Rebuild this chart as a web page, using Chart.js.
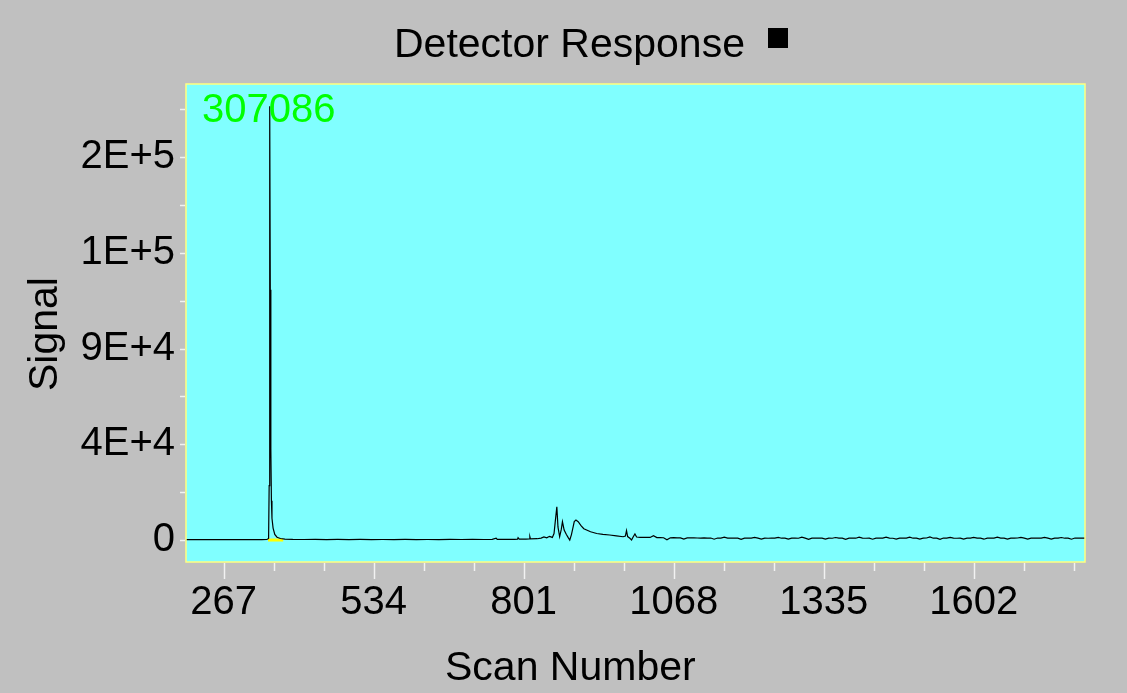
<!DOCTYPE html>
<html>
<head>
<meta charset="utf-8">
<script src="https://cdn.jsdelivr.net/npm/chart.js@4"></script>
<style>
    html, body { margin: 0; padding: 0; background: #c0c0c0; }
    canvas { display: block; }
</style>
</head>
<body>
<canvas id="detectorChart" width="1127" height="693"></canvas>
<script>
// Peak region: scan numbers and signal
const peakScans = [
    200, 215, 230, 245, 260, 275, 290, 305, 320, 335, 344, 347, 348, 349, 350, 351, 352, 353, 355, 358,
    362, 368, 376, 390, 410, 430, 450, 470, 490, 510, 530, 550, 570, 590, 610, 630, 650, 670, 690, 710,
    730, 745, 752, 754, 770, 785, 790, 791, 793, 805, 811, 812, 813, 825, 832, 837, 842, 847, 852, 855,
    857, 860, 862, 865, 868, 870, 873, 877, 880, 883, 886, 889, 891, 894, 898, 903, 908, 913, 920, 931,
    942, 954, 966, 978, 982, 984, 986, 990, 993, 996, 999, 1002, 1008, 1014
];
const peakSignal = [
    150, 250, 180, 220, 160, 240, 200, 170, 230, 190, 250, 700, 25000, 199400, 115000, 42000, 18000, 10000, 5500, 2600,
    1300, 700, 450, 300, 250, 300, 220, 280, 230, 260, 200, 250, 220, 270, 230, 250, 210, 260, 240, 280,
    250, 300, 800, 300, 350, 300, 400, 1100, 400, 450, 500, 1500, 500, 600, 900, 1400, 1000, 1700, 1200, 3000,
    8000, 15300, 6000, 1500, 5000, 8400, 4600, 2500, 1200, 0, 2500, 6000, 8500, 9200, 8400, 6600, 5200, 4600, 3800, 3000,
    2600, 2300, 1900, 1500, 1800, 4300, 1600, 800, 0, 1500, 2750, 1400, 1250, 1200
];

// Noisy tail, one reading every 6 scans from scan 1020
const tailStart = 1020;
const tailStep = 6;
const tailSignal = [
    1250, 1180, 2000, 1120, 1150, 1060, 100, 1020, 1060, 980, 1010, 420, 990,
    960, 1000, 930, 880, 950, 900, 940, 380, 920, 870, 1300, 900, 860,
    910, 850, 350, 890, 830, 900, 1250, 860, 400, 880, 820, 910, 850,
    1200, 830, 880, 420, 860, 900, 820, 1350, 870, 300, 890, 840, 910,
    860, 450, 880, 820, 1150, 870, 900, 350, 850, 910, 830, 1280, 880,
    820, 900, 380, 860, 920, 840, 1300, 870, 810, 430, 900, 850, 880,
    1350, 830, 890, 400, 860, 920, 1450, 840, 880, 360, 910, 850, 1200,
    870, 820, 900, 420, 880, 860, 1250, 900, 840, 380, 870, 910, 850,
    1300, 880, 830, 450, 900, 860, 920, 1200, 840, 400, 890, 870, 910,
    850, 1250, 880, 420, 900, 860, 1150, 830, 890, 380, 910, 870, 860,
    880
];

// Yellow integration mark under the big peak
const markScans = [346, 373];
const markSignal = [0, 0];

// Axes
const xMin = 200, xMax = 1800;
const xTicks = [267, 356, 445, 534, 623, 712, 801, 890, 979, 1068, 1157, 1246, 1335, 1424, 1513, 1602, 1691, 1780];
const xMajor = [267, 534, 801, 1068, 1335, 1602];
const yMin = -10100, yMax = 209600;
const yTicks = [0, 22000, 44000, 66000, 88000, 110000, 132000, 154000, 176000, 198000];
const yMajor = [0, 44000, 88000, 132000, 176000];
const yMajorText = ['0', '4E+4', '9E+4', '1E+5', '2E+5'];

const titleText = 'Detector Response';
const xTitle = 'Scan Number';
const yTitle = 'Signal';
const maxLabel = '307086';

const FONT = '"Liberation Sans", Arial, sans-serif';

function buildTrace() {
    const pts = peakScans.map((s, i) => ({ x: s, y: peakSignal[i] }));
    tailSignal.forEach((v, i) => pts.push({ x: tailStart + i * tailStep, y: v }));
    return pts;
}

// Background, frame, tick marks and text drawn around the plot
const decorPlugin = {
    id: 'decor',
    beforeDraw(chart) {
        const c = chart.ctx, a = chart.chartArea;
        c.save();
        c.fillStyle = '#c0c0c0';
        c.fillRect(0, 0, chart.width, chart.height);
        c.fillStyle = '#80ffff';
        c.fillRect(a.left, a.top, a.right - a.left, a.bottom - a.top);
        c.restore();
    },
    afterDraw(chart) {
        const c = chart.ctx, a = chart.chartArea;
        const xs = chart.scales.x, ys = chart.scales.y;
        c.save();

        // frame
        c.strokeStyle = '#ffff80';
        c.lineWidth = 1.5;
        c.strokeRect(a.left, a.top, a.right - a.left, a.bottom - a.top);

        // tick marks
        c.strokeStyle = '#f2f2f2';
        c.lineWidth = 1.5;
        xTicks.forEach(v => {
            const px = Math.round(xs.getPixelForValue(v)) + 0.5;
            const len = xMajor.includes(v) ? 16 : 8;
            c.beginPath();
            c.moveTo(px, a.bottom + 1);
            c.lineTo(px, a.bottom + 1 + len);
            c.stroke();
        });
        yTicks.forEach(v => {
            const py = Math.round(ys.getPixelForValue(v)) + 0.5;
            c.beginPath();
            c.moveTo(a.left - 6, py);
            c.lineTo(a.left - 1, py);
            c.stroke();
        });

        // title and its black marker
        c.fillStyle = '#000';
        c.font = '41px ' + FONT;
        c.textAlign = 'left';
        c.textBaseline = 'alphabetic';
        c.fillText(titleText, 394, 57);
        c.fillRect(768, 28, 20, 20);

        // axis titles
        c.fillText(xTitle, 445, 680);
        c.save();
        c.translate(57, 391);
        c.rotate(-Math.PI / 2);
        c.fillText(yTitle, 0, 0);
        c.restore();

        // max value label
        c.fillStyle = '#00ff00';
        c.font = '40px ' + FONT;
        c.fillText(maxLabel, 202, 122);

        c.restore();
    }
};

new Chart(document.getElementById('detectorChart'), {
    type: 'line',
    data: {
        datasets: [
            {
                label: 'Signal',
                data: buildTrace(),
                borderColor: '#000000',
                borderWidth: 1.2,
                pointRadius: 0,
                tension: 0,
                order: 1
            },
            {
                label: 'Mark',
                data: markScans.map((s, i) => ({ x: s, y: markSignal[i] })),
                borderColor: '#ffff00',
                borderWidth: 3,
                pointRadius: 0,
                order: 2
            }
        ]
    },
    options: {
        responsive: false,
        animation: false,
        layout: { padding: { left: 0, top: 84, right: 42, bottom: 0 } },
        plugins: {
            legend: { display: false },
            tooltip: { enabled: false },
            title: { display: false }
        },
        scales: {
            x: {
                type: 'linear',
                min: xMin,
                max: xMax,
                grid: { display: false, drawTicks: false },
                border: { display: false },
                afterFit: s => { s.height = 131; },
                afterBuildTicks: s => { s.ticks = xTicks.map(v => ({ value: v })); },
                ticks: {
                    autoSkip: false,
                    maxRotation: 0,
                    padding: 17,
                    color: '#000',
                    font: { family: FONT, size: 40 },
                    callback: v => xMajor.includes(v) ? String(v) : ''
                }
            },
            y: {
                type: 'linear',
                min: yMin,
                max: yMax,
                grid: { display: false, drawTicks: false },
                border: { display: false },
                afterFit: s => { s.width = 186; },
                afterBuildTicks: s => { s.ticks = yTicks.map(v => ({ value: v })); },
                ticks: {
                    autoSkip: false,
                    padding: 11,
                    color: '#000',
                    font: { family: FONT, size: 40 },
                    callback: v => {
                        const i = yMajor.indexOf(v);
                        return i >= 0 ? yMajorText[i] : '';
                    }
                }
            }
        }
    },
    plugins: [decorPlugin]
});
</script>
</body>
</html>
